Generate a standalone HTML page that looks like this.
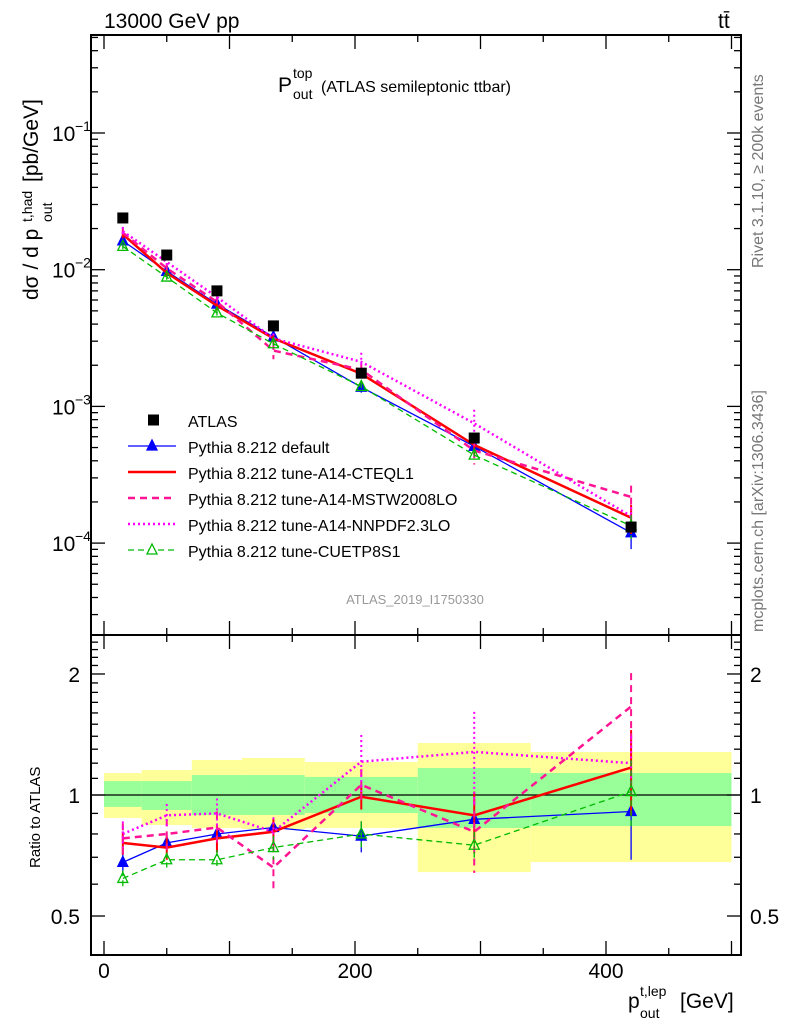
<!DOCTYPE html>
<html><head><meta charset="utf-8"><style>
body{margin:0;background:#fff;width:786px;height:1024px;overflow:hidden}
svg{font-family:"Liberation Sans",sans-serif}
</style></head><body>
<svg id="s" width="786" height="1024" xmlns="http://www.w3.org/2000/svg"></svg>
<script>
const xCenters=[15,50,90,135,205,295,420];
const binEdges=[0,30,70,110,160,250,340,500];
const atlas=[0.0239,0.0128,0.0070,0.00388,0.00175,0.000587,0.000131];
const rDefault=[0.68,0.76,0.80,0.83,0.79,0.87,0.91];
const rCTEQ=[0.76,0.74,0.78,0.81,0.99,0.89,1.17];
const rMSTW=[0.78,0.80,0.83,0.66,1.06,0.81,1.66];
const rNNPDF=[0.80,0.89,0.90,0.81,1.21,1.28,1.20];
const rCUET=[0.62,0.69,0.69,0.74,0.80,0.75,1.02];
const errDefault=[0.04,0.04,0.05,0.05,0.07,0.06,0.22];
const errCTEQ=[0.05,0.05,0.06,0.06,0.07,0.13,0.28];
const errMSTW=[0.07,0.07,0.08,0.09,0.1,0.17,0.35];
const errNNPDF=[0.06,0.06,0.08,0.07,0.2,0.33,0.2];
const errCUET=[0.03,0.03,0.04,0.05,0.06,0.06,0.2];
const yellowHi=[1.134,1.154,1.222,1.236,1.208,1.347,1.279];
const yellowLo=[0.877,0.842,0.828,0.823,0.828,0.643,0.681];
const greenHi=[1.083,1.083,1.121,1.121,1.109,1.167,1.134];
const greenLo=[0.934,0.918,0.892,0.892,0.902,0.828,0.837];
const xTicks=[0,200,400];
const yTicksMain=[-1,-2,-3,-4];
const yTicksRatio=[0.5,1,2];

const s=document.getElementById('s');const NS='http://www.w3.org/2000/svg';
const L=91,R=741,T=35,M=635,B=955;
const X=v=>104+(v)*1.255;
const YM=v=>133+(-1-Math.log10(v))*136.7;
const YR=v=>795-Math.log10(v)*402;
function el(t,a,txt){const e=document.createElementNS(NS,t);for(const k in a)e.setAttribute(k,a[k]);if(txt!==undefined)e.textContent=txt;s.appendChild(e);return e;}

for(let i=0;i<7;i++){
 const b=el('rect',{x:X(binEdges[i]),y:YR(yellowHi[i]),width:X(binEdges[i+1])-X(binEdges[i]),height:YR(yellowLo[i])-YR(yellowHi[i]),fill:'#ffff99'});
 
 const g=el('rect',{x:X(binEdges[i]),y:YR(greenHi[i]),width:X(binEdges[i+1])-X(binEdges[i]),height:YR(greenLo[i])-YR(greenHi[i]),fill:'#99ff99'});
 
}
el('line',{x1:L,x2:R,y1:YR(1),y2:YR(1),stroke:'#000','stroke-width':1.2});

el('rect',{x:L,y:T,width:R-L,height:M-T,fill:'none',stroke:'#000','stroke-width':2});
el('rect',{x:L,y:M,width:R-L,height:B-M,fill:'none',stroke:'#000','stroke-width':2});

for(let v=0;v<=500;v+=50){const len=v%100===0?14:7;
 [[T,1],[M,-1],[M,1],[B,-1]].forEach(([y,d])=>el('line',{x1:X(v),x2:X(v),y1:y,y2:y+d*len,stroke:'#000','stroke-width':1.3}));}
xTicks.forEach(v=>{const t=el('text',{x:X(v),y:978,'font-size':21,'text-anchor':'middle'},v);});
for(let d=-5;d<=0;d++){for(let k=1;k<10;k++){const v=k*Math.pow(10,d);const y=YM(v);if(y<T||y>M)continue;const len=k===1?14:7;
 el('line',{x1:L,x2:L+len,y1:y,y2:y,stroke:'#000','stroke-width':1.3});el('line',{x1:R,x2:R-len,y1:y,y2:y,stroke:'#000','stroke-width':1.3});}}
yTicksMain.forEach(p=>{const t=el('text',{x:52,y:YM(Math.pow(10,p))+8,'font-size':21},'10');
 el('text',{x:75,y:YM(Math.pow(10,p))-2,'font-size':14},String.fromCharCode(8722)+Math.abs(p));});
for(let v=0.4;v<=2.5;v+=0.1){const y=YR(v);if(y<M||y>B)continue;const maj=Math.abs(v-0.5)<1e-6||Math.abs(v-1)<1e-6||Math.abs(v-2)<1e-6;const len=maj?14:7;
 el('line',{x1:L,x2:L+len,y1:y,y2:y,stroke:'#000','stroke-width':1.3});el('line',{x1:R,x2:R-len,y1:y,y2:y,stroke:'#000','stroke-width':1.3});}
yTicksRatio.forEach(v=>{const t=el('text',{x:80,y:YR(v)+8,'font-size':21,'text-anchor':'end'},v);
 el('text',{x:750,y:YR(v)+8,'font-size':21},v);});

const series=[
 {name:'default',r:rDefault,e:errDefault,c:'#0000ff',w:1.3,dash:'',m:'tri'},
 {name:'cteql1',r:rCTEQ,e:errCTEQ,c:'#ff0000',w:2.5,dash:'',m:''},
 {name:'mstw',r:rMSTW,e:errMSTW,c:'#ff1493',w:2.5,dash:'7,5',m:''},
 {name:'nnpdf',r:rNNPDF,e:errNNPDF,c:'#ff00ff',w:2.5,dash:'2,3',m:''},
 {name:'cuetp8s1',r:rCUET,e:errCUET,c:'#00bb00',w:1.3,dash:'6,4',m:'otri'}];
series.forEach(sr=>{
 xCenters.forEach((x,i)=>{
  const lo=Math.max(sr.r[i]-sr.e[i],0.05),hi=sr.r[i]+sr.e[i];
  const eb=el('line',{x1:X(x),x2:X(x),y1:YR(hi),y2:YR(lo),stroke:sr.c,'stroke-width':sr.w>2?2:1.3,'stroke-dasharray':sr.dash});
  
  const eb2=el('line',{x1:X(x),x2:X(x),y1:YM(hi*atlas[i]),y2:YM(lo*atlas[i]),stroke:sr.c,'stroke-width':sr.w>2?2:1.3,'stroke-dasharray':sr.dash});
  
 });
 const pm=xCenters.map((x,i)=>X(x)+','+YM(sr.r[i]*atlas[i])).join(' ');
 const p1=el('polyline',{points:pm,fill:'none',stroke:sr.c,'stroke-width':sr.w,'stroke-dasharray':sr.dash});
 
 const pr=xCenters.map((x,i)=>X(x)+','+YR(sr.r[i])).join(' ');
 const p2=el('polyline',{points:pr,fill:'none',stroke:sr.c,'stroke-width':sr.w,'stroke-dasharray':sr.dash});
 
 if(sr.m){xCenters.forEach((x,i)=>{[YM(sr.r[i]*atlas[i]),YR(sr.r[i])].forEach(y=>{
  const t=el('polygon',{points:`${X(x)-5},${y+4} ${X(x)+5},${y+4} ${X(x)},${y-6}`,fill:sr.m==='tri'?sr.c:'none',stroke:sr.c,'stroke-width':1.3});
  });});}
});
xCenters.forEach((x,i)=>{const r=el('rect',{x:X(x)-5.5,y:YM(atlas[i])-5.5,width:11,height:11,fill:'#000'});
 });

const leg=[['ATLAS','#000','',0,'sq'],['Pythia 8.212 default','#0000ff','',1.3,'tri'],['Pythia 8.212 tune-A14-CTEQL1','#ff0000','',2.5,''],['Pythia 8.212 tune-A14-MSTW2008LO','#ff1493','7,5',2.5,''],['Pythia 8.212 tune-A14-NNPDF2.3LO','#ff00ff','2,3',2.5,''],['Pythia 8.212 tune-CUETP8S1','#00bb00','6,4',1.3,'otri']];
leg.forEach((l,i)=>{const y=420+i*26;
 if(l[3])el('line',{x1:128,x2:176,y1:y,y2:y,stroke:l[1],'stroke-width':l[3],'stroke-dasharray':l[2]});
 if(l[4]==='sq')el('rect',{x:148,y:y-5.5,width:11,height:11,fill:'#000'});
 if(l[4]==='tri'||l[4]==='otri')el('polygon',{points:`${147},${y+4} ${157},${y+4} ${152},${y-6}`,fill:l[4]==='tri'?l[1]:'#fff',stroke:l[1],'stroke-width':1.3});
 const t=el('text',{x:188,y:y+7,'font-size':16},l[0]);});

el('text',{x:104,y:28,'font-size':21},'13000 GeV pp');
el('text',{x:718,y:28,'font-size':21},'tt̄');
const tt=el('text',{x:278,y:92,'font-size':21},'P');
el('text',{x:293,y:78,'font-size':14},'top');el('text',{x:293,y:99,'font-size':14},'out');
el('text',{x:321,y:92,'font-size':16},'(ATLAS semileptonic ttbar)');
el('text',{x:415,y:604,'font-size':13,fill:'#999','text-anchor':'middle'},'ATLAS_2019_I1750330');
el('text',{x:0,y:0,'font-size':16,fill:'#777',transform:'translate(763,268) rotate(-90)'},'Rivet 3.1.10, ≥ 200k events');
el('text',{x:0,y:0,'font-size':16,fill:'#777',transform:'translate(763,632) rotate(-90)'},'mcplots.cern.ch [arXiv:1306.3436]');
el('text',{x:0,y:0,'font-size':21,transform:'translate(38,300) rotate(-90)'},'dσ / d p');
el('text',{x:0,y:0,'font-size':14,transform:'translate(52,222) rotate(-90)'},'out');
el('text',{x:0,y:0,'font-size':14,transform:'translate(32,222) rotate(-90)'},'t,had');
el('text',{x:0,y:0,'font-size':21,transform:'translate(38,182) rotate(-90)'},'[pb/GeV]');
el('text',{x:0,y:0,'font-size':15,transform:'translate(40,868) rotate(-90)'},'Ratio to ATLAS');
el('text',{x:628,y:1008,'font-size':21},'p');
el('text',{x:640,y:1018,'font-size':14},'out');el('text',{x:640,y:996,'font-size':14},'t,lep');
el('text',{x:680,y:1008,'font-size':21},'[GeV]');
</script>
</body></html>
